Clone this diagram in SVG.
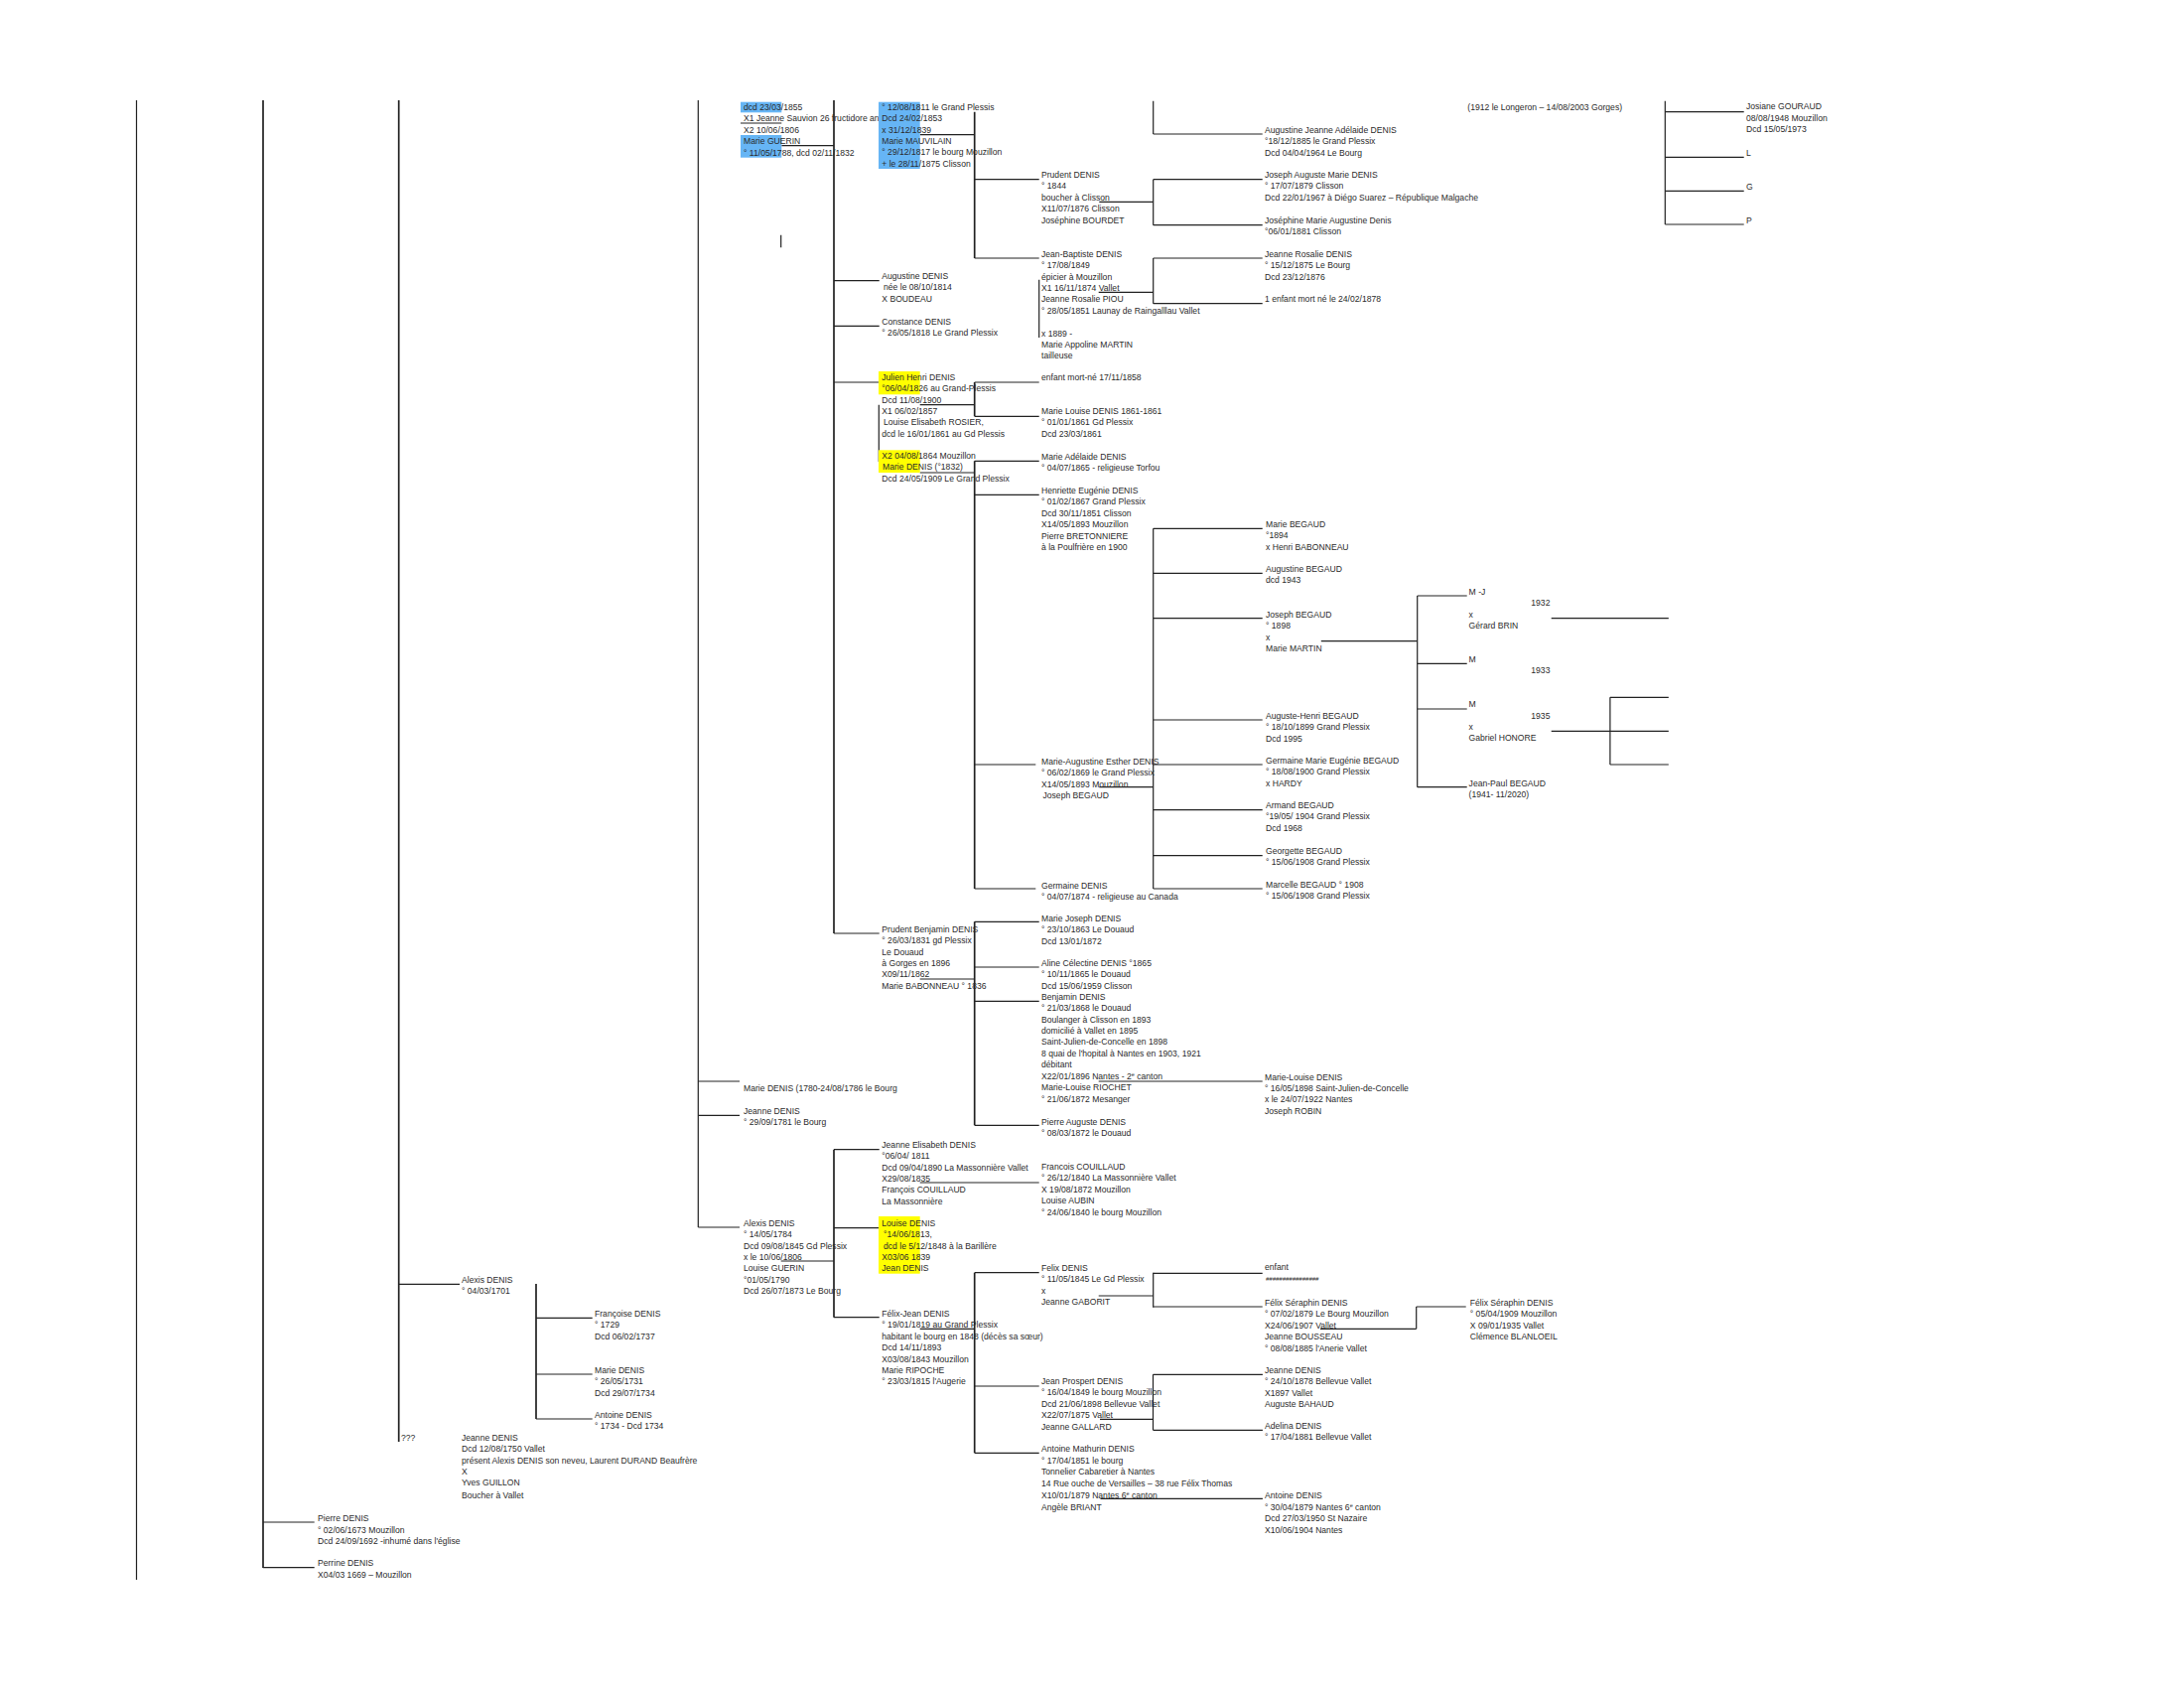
<svg xmlns="http://www.w3.org/2000/svg" width="2200" height="1700" viewBox="0 0 2200 1700">
<style>
text{font-family:"Liberation Sans",Arial,sans-serif;font-size:8.6px;fill:#2a2a2a}
.c{stroke:#222;stroke-width:1.2;fill:none}
.k{stroke:#222;stroke-width:1.7;fill:none}
.b{fill:#66b5f5}
.y{fill:#ffff00}
.sup{font-size:5.5px}
</style>
<rect width="2200" height="1700" fill="#fff"/>

<g id="connectors">
<path class="c" d="M137.5,101V1591 M703.3,101V1236 M1161.7,101.7V135 M1161.7,180.7V226.7 M1161.7,260V305.7 M1161.7,532.3V895 M1161.7,1281.7V1316.7 M1161.5,1384.3V1440.3 M1427.7,600V792.7 M1621.9,702.3V770 M1426.7,1316V1338.3 M1677.3,101.7V226 M885.3,407.7V465 M1046.7,281.7V340 M786.7,236.7V249.3"/>
<path class="k" d="M265,101V1579 M401.7,101V1452 M540,1293V1429 M840,101V940 M840,1157.7V1326.7 M981.7,112.7V260 M981.7,385V419.3 M981.7,464.3V895 M981.7,928.3V1133.3 M981.7,1281.7V1463.3"/>
<path class="c" d="M265,1533H316.7 M265,1578.7H316.7 M401.7,1293.3H463 M540,1327.3H596.7 M540,1384H596.7 M540,1429H596.7
M746,124H787.3 M787.3,146.7H840 M926.7,135.7H981.7 M981.7,180.7H1046.7 M981.7,260H1046.7
M1107.3,203.3H1161.7 M1161.7,135H1271.7 M1161.7,180.7H1271.7 M1161.7,226.7H1271.7
M1106.7,294.3H1161.7 M1161.7,260H1271.7 M1161.7,305.7H1271.7
M840,282.7H885.7 M840,328.3H885.7 M840,385H885.7
M981.7,385H1046.7 M926.7,407.7H981.7 M981.7,419.3H1046.7
M926.7,476H981.7 M981.7,464.3H1046.7 M981.7,498.3H1046.7
M1161.7,532.3H1271.7 M1161.7,577.3H1271.7 M1161.7,622.7H1271.7 M1161.7,725H1271.7 M1161.7,770H1271.7 M1161.7,815.7H1271.7 M1161.7,861.7H1271.7 M1161.7,895H1271.7
M981.7,770H1043.3 M981.7,895H1043.3 M1107.3,792.7H1161.7
M1330.8,645.7H1427.7 M1427.7,600H1477.7 M1427.7,668.3H1477.7 M1427.7,714H1477.7 M1427.7,792.7H1477.7
M1562.7,622.7H1680.8 M1562.7,736.3H1680.8 M1621.9,702.3H1680.8 M1621.9,770H1680.8
M1677.3,112.7H1756.7 M1677.3,158.3H1756.7 M1677.3,192.3H1756.7 M1677.3,226H1756.7
M840,940H885.7 M926.7,986H981.7
M981.7,928.3H1046.7 M981.7,974H1046.7 M981.7,1008.3H1046.7 M981.7,1133.3H1046.7
M1106.7,1089H1271.7 M703.3,1089H745 M703.3,1123.3H745
M840,1157.7H885.7 M926.7,1191H1046.7
M703.3,1236H745 M786.7,1270H840 M840,1236.7H885.7 M840,1326.7H885.7 M926.7,1338.3H981.7
M981.7,1281.7H1046.7 M981.7,1396H1046.7 M981.7,1463.3H1046.7
M1106.7,1305H1161.7 M1161.7,1282.3H1271.7 M1161.7,1316H1271.7
M1330,1338.3H1426.7 M1426.7,1316H1476.7
M1108,1429.3H1161.5 M1161.5,1384.3H1271.9 M1161.5,1440.3H1271.9
M1108.5,1509.3H1271.9"/>
</g>

<g id="n-denis-guerin">
<rect class="b" x="746" y="102.7" width="41.3" height="10.6"/>
<rect class="b" x="746" y="136" width="41.3" height="22.7"/>
<text x="749" y="110.7"><tspan x="749">dcd 23/03/1855</tspan><tspan x="749" dy="11.5">X1 Jeanne Sauvion 26 fructidore an</tspan><tspan x="749" dy="11.5">X2  10/06/1806</tspan><tspan x="749" dy="11.5">Marie GUERIN</tspan><tspan x="749" dy="11.5">° 11/05/1788, dcd 02/11/1832</tspan></text>
</g>
<g id="n-1811">
<rect class="b" x="885" y="102.7" width="41.7" height="67.3"/>
<text x="888.3" y="110.7"><tspan x="888.3">° 12/08/1811 le Grand Plessis</tspan><tspan x="888.3" dy="11.4">Dcd 24/02/1853</tspan><tspan x="888.3" dy="11.4">x 31/12/1839</tspan><tspan x="888.3" dy="11.4">Marie  MAUVILAIN</tspan><tspan x="888.3" dy="11.4">° 29/12/1817 le bourg Mouzillon</tspan><tspan x="888.3" dy="11.4">+ le 28/11/1875 Clisson</tspan></text>
</g>
<g id="n-prudent"><text y="179"><tspan x="1049">Prudent DENIS</tspan><tspan x="1049" dy="11.4">° 1844</tspan><tspan x="1049" dy="11.4">boucher à Clisson</tspan><tspan x="1049" dy="11.4">X11/07/1876 Clisson</tspan><tspan x="1049" dy="11.4">Joséphine BOURDET</tspan></text></g>
<g id="n-jean-baptiste"><text y="258.7"><tspan x="1049">Jean-Baptiste DENIS</tspan><tspan x="1049" dy="11.4">° 17/08/1849</tspan><tspan x="1049" dy="11.4">épicier à Mouzillon</tspan><tspan x="1049" dy="11.4">X1 16/11/1874 Vallet</tspan><tspan x="1049" dy="11.4">Jeanne Rosalie PIOU</tspan><tspan x="1049" dy="11.4">° 28/05/1851 Launay de Raingalllau Vallet</tspan><tspan x="1049" dy="22.8">x 1889 -</tspan><tspan x="1049" dy="11.4">Marie Appoline MARTIN</tspan><tspan x="1049" dy="11.4">tailleuse</tspan></text></g>
<g id="n-augustine"><text y="280.7"><tspan x="888.3">Augustine DENIS</tspan><tspan x="890" dy="11.4">née le 08/10/1814</tspan><tspan x="888.3" dy="11.4">X  BOUDEAU</tspan></text></g>
<g id="n-constance"><text y="326.7"><tspan x="888.3">Constance DENIS</tspan><tspan x="888.3" dy="11.4">° 26/05/1818 Le Grand Plessix</tspan></text></g>
<g id="n-julien">
<rect class="y" x="885" y="374" width="41.7" height="23.3"/>
<rect class="y" x="885" y="453.3" width="41.7" height="22.7"/>
<text y="383"><tspan x="888.3">Julien Henri DENIS</tspan><tspan x="888.3" dy="11.3">°06/04/1826 au Grand-Plessis</tspan><tspan x="888.3" dy="11.3">Dcd 11/08/1900</tspan><tspan x="888.3" dy="11.3">X1   06/02/1857</tspan><tspan x="890" dy="11.3">Louise Elisabeth ROSIER,</tspan><tspan x="888.3" dy="11.3">dcd le 16/01/1861  au Gd Plessis</tspan><tspan x="888.3" dy="22.6">X2  04/08/1864 Mouzillon</tspan><tspan x="889" dy="11.3">Marie DENIS (°1832)</tspan><tspan x="888.3" dy="11.3">Dcd 24/05/1909 Le Grand Plessix</tspan></text>
</g>
<g id="n-enfant-1858"><text x="1049" y="383">enfant mort-né 17/11/1858</text></g>
<g id="n-marie-louise-1861"><text y="417"><tspan x="1049">Marie Louise DENIS 1861-1861</tspan><tspan x="1049" dy="11.4">° 01/01/1861 Gd Plessix</tspan><tspan x="1049" dy="11.4">Dcd 23/03/1861</tspan></text></g>
<g id="n-marie-adelaide"><text y="463"><tspan x="1049">Marie Adélaide DENIS</tspan><tspan x="1049" dy="11.4">° 04/07/1865 - religieuse Torfou</tspan></text></g>
<g id="n-henriette"><text y="497"><tspan x="1049">Henriette Eugénie DENIS</tspan><tspan x="1049" dy="11.4">° 01/02/1867 Grand Plessix</tspan><tspan x="1049" dy="11.4">Dcd 30/11/1851 Clisson</tspan><tspan x="1049" dy="11.4">X14/05/1893  Mouzillon</tspan><tspan x="1049" dy="11.4">Pierre BRETONNIERE</tspan><tspan x="1049" dy="11.4">à la  Poulfrière en 1900</tspan></text></g>
<g id="n-marie-augustine"><text y="769.7"><tspan x="1049">Marie-Augustine Esther DENIS</tspan><tspan x="1049" dy="11.4">° 06/02/1869 le Grand Plessix</tspan><tspan x="1049" dy="11.4">X14/05/1893  Mouzillon</tspan><tspan x="1050.5" dy="11.4">Joseph BEGAUD</tspan></text></g>
<g id="n-germaine"><text y="894.7"><tspan x="1049">Germaine DENIS</tspan><tspan x="1049" dy="11.4">° 04/07/1874 - religieuse au Canada</tspan></text></g>
<g id="n-prudent-benjamin"><text y="938.7"><tspan x="888.3">Prudent Benjamin DENIS</tspan><tspan x="888.3" dy="11.4">° 26/03/1831 gd Plessix</tspan><tspan x="888.3" dy="11.4">Le Douaud</tspan><tspan x="888.3" dy="11.4">à Gorges en 1896</tspan><tspan x="888.3" dy="11.4">X09/11/1862</tspan><tspan x="888.3" dy="11.4">Marie  BABONNEAU ° 1836</tspan></text></g>
<g id="n-marie-joseph"><text y="927.7"><tspan x="1049">Marie Joseph DENIS</tspan><tspan x="1049" dy="11.4">° 23/10/1863 Le Douaud</tspan><tspan x="1049" dy="11.4">Dcd 13/01/1872</tspan></text></g>
<g id="n-aline"><text y="973"><tspan x="1049">Aline Célectine DENIS °1865</tspan><tspan x="1049" dy="11.4">° 10/11/1865 le Douaud</tspan><tspan x="1049" dy="11.4">Dcd 15/06/1959 Clisson</tspan></text></g>
<g id="n-benjamin"><text y="1006.7"><tspan x="1049">Benjamin DENIS</tspan><tspan x="1049" dy="11.4">° 21/03/1868 le Douaud</tspan><tspan x="1049" dy="11.4">Boulanger à Clisson en 1893</tspan><tspan x="1049" dy="11.4">domicilié à Vallet en 1895</tspan><tspan x="1049" dy="11.4">Saint-Julien-de-Concelle en 1898</tspan><tspan x="1049" dy="11.4">8 quai de l'hopital à Nantes en 1903, 1921</tspan><tspan x="1049" dy="11.4">débitant</tspan><tspan x="1049" dy="11.8">X22/01/1896 Nantes - 2</tspan><tspan class="sup" dy="-3">e</tspan><tspan dy="3"> canton</tspan><tspan x="1049" dy="11.2">Marie-Louise RIOCHET</tspan><tspan x="1049" dy="11.4">° 21/06/1872 Mesanger</tspan></text></g>
<g id="n-marie-louise-1898"><text y="1087.5"><tspan x="1274">Marie-Louise DENIS</tspan><tspan x="1274" dy="11.4">° 16/05/1898 Saint-Julien-de-Concelle</tspan><tspan x="1274" dy="11.4">x le 24/07/1922 Nantes</tspan><tspan x="1274" dy="11.4">Joseph ROBIN</tspan></text></g>
<g id="n-pierre-auguste"><text y="1132.7"><tspan x="1049">Pierre Auguste DENIS</tspan><tspan x="1049" dy="11.4">° 08/03/1872 le Douaud</tspan></text></g>
<g id="n-marie-1780"><text x="749" y="1098.7">Marie DENIS (1780-24/08/1786 le Bourg</text></g>
<g id="n-jeanne-1781"><text y="1122"><tspan x="749">Jeanne DENIS</tspan><tspan x="749" dy="11.4">° 29/09/1781 le Bourg</tspan></text></g>
<g id="n-jeanne-elisabeth"><text y="1155.7"><tspan x="888.3">Jeanne Elisabeth DENIS</tspan><tspan x="888.3" dy="11.4">°06/04/ 1811</tspan><tspan x="888.3" dy="11.4">Dcd 09/04/1890 La  Massonnière Vallet</tspan><tspan x="888.3" dy="11.4">X29/08/1835</tspan><tspan x="888.3" dy="11.4">François COUILLAUD</tspan><tspan x="888.3" dy="11.4">La  Massonnière</tspan></text></g>
<g id="n-francois-couillaud"><text y="1178"><tspan x="1049">Francois  COUILLAUD</tspan><tspan x="1049" dy="11.4">° 26/12/1840 La Massonnière Vallet</tspan><tspan x="1049" dy="11.4">X 19/08/1872 Mouzillon</tspan><tspan x="1049" dy="11.4">Louise AUBIN</tspan><tspan x="1049" dy="11.4">° 24/06/1840 le bourg Mouzillon</tspan></text></g>
<g id="n-alexis-1784"><text y="1234.7"><tspan x="749">Alexis DENIS</tspan><tspan x="749" dy="11.4">° 14/05/1784</tspan><tspan x="749" dy="11.4">Dcd 09/08/1845 Gd Plessix</tspan><tspan x="749" dy="11.4">x le 10/06/1806</tspan><tspan x="749" dy="11.4">Louise  GUERIN</tspan><tspan x="749" dy="11.4">°01/05/1790</tspan><tspan x="749" dy="11.4">Dcd 26/07/1873 Le Bourg</tspan></text></g>
<g id="n-louise">
<rect class="y" x="885" y="1225" width="41.7" height="57.7"/>
<text y="1234.7"><tspan x="888.3">Louise DENIS</tspan><tspan x="890" dy="11.4">°14/06/1813,</tspan><tspan x="890" dy="11.4">dcd le 5/12/1848 à la Barillère</tspan><tspan x="888.3" dy="11.4">X03/06 1839</tspan><tspan x="888.3" dy="11.4">Jean DENIS</tspan></text>
</g>
<g id="n-felix-jean"><text y="1326"><tspan x="888.3">Félix-Jean DENIS</tspan><tspan x="888.3" dy="11.4">° 19/01/1819 au Grand Plessix</tspan><tspan x="888.3" dy="11.4">habitant le bourg en 1848 (décès sa sœur)</tspan><tspan x="888.3" dy="11.4">Dcd 14/11/1893</tspan><tspan x="888.3" dy="11.4">X03/08/1843 Mouzillon</tspan><tspan x="888.3" dy="11.4">Marie  RIPOCHE</tspan><tspan x="888.3" dy="11.4">° 23/03/1815 l'Augerie</tspan></text></g>
<g id="n-felix"><text y="1280"><tspan x="1049">Felix DENIS</tspan><tspan x="1049" dy="11.4">° 11/05/1845 Le Gd Plessix</tspan><tspan x="1049" dy="11.4">x</tspan><tspan x="1049" dy="11.4">Jeanne GABORIT</tspan></text></g>
<g id="n-enfant"><text y="1278.7"><tspan x="1274">enfant</tspan><tspan x="1275" dy="11.4" font-size="6" font-style="italic">################</tspan></text></g>
<g id="n-felix-seraphin-1879"><text y="1315"><tspan x="1274">Félix Séraphin DENIS</tspan><tspan x="1274" dy="11.4">° 07/02/1879 Le Bourg Mouzillon</tspan><tspan x="1274" dy="11.4">X24/06/1907 Vallet</tspan><tspan x="1274" dy="11.4">Jeanne BOUSSEAU</tspan><tspan x="1274" dy="11.4">° 08/08/1885 l'Anerie Vallet</tspan></text></g>
<g id="n-felix-seraphin-1909"><text y="1314.7"><tspan x="1480.8">Félix Séraphin DENIS</tspan><tspan x="1480.8" dy="11.4">° 05/04/1909  Mouzillon</tspan><tspan x="1480.8" dy="11.4">X 09/01/1935 Vallet</tspan><tspan x="1480.8" dy="11.4">Clémence  BLANLOEIL</tspan></text></g>
<g id="n-jeanne-1878"><text y="1383"><tspan x="1274">Jeanne DENIS</tspan><tspan x="1274" dy="11.4">° 24/10/1878 Bellevue  Vallet</tspan><tspan x="1274" dy="11.4">X1897 Vallet</tspan><tspan x="1274" dy="11.4">Auguste BAHAUD</tspan></text></g>
<g id="n-adelina"><text y="1439"><tspan x="1274">Adelina DENIS</tspan><tspan x="1274" dy="11.4">° 17/04/1881   Bellevue Vallet</tspan></text></g>
<g id="n-jean-prospert"><text y="1394"><tspan x="1049">Jean Prospert DENIS</tspan><tspan x="1049" dy="11.4">° 16/04/1849 le bourg Mouzillon</tspan><tspan x="1049" dy="11.4">Dcd 21/06/1898 Bellevue Vallet</tspan><tspan x="1049" dy="11.4">X22/07/1875  Vallet</tspan><tspan x="1049" dy="11.4">Jeanne GALLARD</tspan></text></g>
<g id="n-antoine-mathurin"><text y="1462"><tspan x="1049">Antoine Mathurin DENIS</tspan><tspan x="1049" dy="11.5">° 17/04/1851 le bourg</tspan><tspan x="1049" dy="11.5">Tonnelier  Cabaretier à Nantes</tspan><tspan x="1049" dy="11.5">14 Rue ouche de Versailles – 38 rue Félix Thomas</tspan><tspan x="1049" dy="12.6">X10/01/1879 Nantes 6</tspan><tspan class="sup" dy="-3">e</tspan><tspan dy="3"> canton</tspan><tspan x="1049" dy="11.6">Angèle BRIANT</tspan></text></g>
<g id="n-antoine-1879"><text y="1509"><tspan x="1274">Antoine DENIS</tspan><tspan x="1274" dy="11.6">° 30/04/1879 Nantes 6</tspan><tspan class="sup" dy="-3">e</tspan><tspan dy="3"> canton</tspan><tspan x="1274" dy="11.6">Dcd  27/03/1950  St Nazaire</tspan><tspan x="1274" dy="11.6">X10/06/1904 Nantes</tspan></text></g>
<g id="n-augustine-jeanne"><text y="134"><tspan x="1274">Augustine Jeanne Adélaide DENIS</tspan><tspan x="1274" dy="11.4">°18/12/1885 le Grand Plessix</tspan><tspan x="1274" dy="11.4">Dcd 04/04/1964 Le Bourg</tspan></text></g>
<g id="n-joseph-auguste"><text y="179"><tspan x="1274">Joseph Auguste Marie DENIS</tspan><tspan x="1274" dy="11.4">° 17/07/1879 Clisson</tspan><tspan x="1274" dy="11.4">Dcd 22/01/1967 à Diégo Suarez – République Malgache</tspan></text></g>
<g id="n-josephine"><text y="224.7"><tspan x="1274">Joséphine Marie Augustine Denis</tspan><tspan x="1274" dy="11.4">°06/01/1881 Clisson</tspan></text></g>
<g id="n-jeanne-rosalie"><text y="258.7"><tspan x="1274">Jeanne Rosalie DENIS</tspan><tspan x="1274" dy="11.4">° 15/12/1875 Le Bourg</tspan><tspan x="1274" dy="11.4">Dcd 23/12/1876</tspan></text></g>
<g id="n-enfant-1878"><text x="1274" y="303.7">1 enfant mort né le 24/02/1878</text></g>
<g id="n-longeron"><text x="1478.3" y="111.3">(1912 le Longeron – 14/08/2003 Gorges)</text></g>
<g id="n-josiane"><text y="110.3"><tspan x="1759">Josiane GOURAUD</tspan><tspan x="1759" dy="11.4">08/08/1948  Mouzillon</tspan><tspan x="1759" dy="11.4">Dcd 15/05/1973</tspan></text></g>
<g id="n-l"><text x="1759" y="157.3">L</text></g>
<g id="n-g"><text x="1759" y="191.3">G</text></g>
<g id="n-p"><text x="1759" y="225.3">P</text></g>
<g id="n-marie-begaud"><text y="530.7"><tspan x="1275">Marie BEGAUD</tspan><tspan x="1275" dy="11.4">°1894</tspan><tspan x="1275" dy="11.4">x Henri BABONNEAU</tspan></text></g>
<g id="n-augustine-begaud"><text y="576"><tspan x="1275">Augustine BEGAUD</tspan><tspan x="1275" dy="11.4">dcd 1943</tspan></text></g>
<g id="n-joseph-begaud"><text y="621.7"><tspan x="1275">Joseph BEGAUD</tspan><tspan x="1275" dy="11.4">° 1898</tspan><tspan x="1275" dy="11.4">x</tspan><tspan x="1275" dy="11.4">Marie  MARTIN</tspan></text></g>
<g id="n-auguste-henri"><text y="723.7"><tspan x="1275">Auguste-Henri BEGAUD</tspan><tspan x="1275" dy="11.4">° 18/10/1899 Grand Plessix</tspan><tspan x="1275" dy="11.4">Dcd 1995</tspan></text></g>
<g id="n-germaine-begaud"><text y="768.7"><tspan x="1275">Germaine  Marie  Eugénie  BEGAUD</tspan><tspan x="1275" dy="11.4">° 18/08/1900 Grand Plessix</tspan><tspan x="1275" dy="11.4">x HARDY</tspan></text></g>
<g id="n-armand"><text y="814"><tspan x="1275">Armand BEGAUD</tspan><tspan x="1275" dy="11.4">°19/05/ 1904 Grand Plessix</tspan><tspan x="1275" dy="11.4">Dcd 1968</tspan></text></g>
<g id="n-georgette"><text y="859.7"><tspan x="1275">Georgette BEGAUD</tspan><tspan x="1275" dy="11.4">° 15/06/1908 Grand Plessix</tspan></text></g>
<g id="n-marcelle"><text y="894"><tspan x="1275">Marcelle BEGAUD ° 1908</tspan><tspan x="1275" dy="11.4">° 15/06/1908 Grand Plessix</tspan></text></g>
<g id="n-mj"><text x="1479.6" y="599">M -J</text><text x="1542.3" y="610">1932</text><text x="1479.6" y="621.7">x</text><text x="1479.6" y="633">Gérard BRIN</text></g>
<g id="n-m1933"><text x="1479.6" y="667">M</text><text x="1542.3" y="678">1933</text></g>
<g id="n-m1935"><text x="1479.6" y="712">M</text><text x="1542.3" y="723.7">1935</text><text x="1479.6" y="735.3">x</text><text x="1479.6" y="746">Gabriel HONORE</text></g>
<g id="n-jean-paul"><text y="791.7"><tspan x="1479.6">Jean-Paul BEGAUD</tspan><tspan x="1479.6" dy="11.4">(1941- 11/2020)</tspan></text></g>
<g id="n-alexis-1701"><text y="1292"><tspan x="465">Alexis DENIS</tspan><tspan x="465" dy="11.4">° 04/03/1701</tspan></text></g>
<g id="n-francoise"><text y="1325.7"><tspan x="599">Françoise DENIS</tspan><tspan x="599" dy="11.4">° 1729</tspan><tspan x="599" dy="11.4">Dcd 06/02/1737</tspan></text></g>
<g id="n-marie-1731"><text y="1383"><tspan x="599">Marie DENIS</tspan><tspan x="599" dy="11.4">° 26/05/1731</tspan><tspan x="599" dy="11.4">Dcd 29/07/1734</tspan></text></g>
<g id="n-antoine-1734"><text y="1427.7"><tspan x="599">Antoine DENIS</tspan><tspan x="599" dy="11.4">° 1734 - Dcd 1734</tspan></text></g>
<g id="n-qqq"><text x="404" y="1451">???</text></g>
<g id="n-jeanne-1750"><text y="1450.7"><tspan x="465">Jeanne DENIS</tspan><tspan x="465" dy="11.4">Dcd 12/08/1750  Vallet</tspan><tspan x="465" dy="11.4">présent  Alexis DENIS son neveu, Laurent DURAND Beaufrère</tspan><tspan x="465" dy="11.4">X</tspan><tspan x="465" dy="11.4">Yves  GUILLON</tspan><tspan x="465" dy="12.8">Boucher à Vallet</tspan></text></g>
<g id="n-pierre-1673"><text y="1532.3"><tspan x="320">Pierre DENIS</tspan><tspan x="320" dy="11.4">° 02/06/1673 Mouzillon</tspan><tspan x="320" dy="11.4">Dcd 24/09/1692 -inhumé dans l'église</tspan></text></g>
<g id="n-perrine"><text y="1577.3"><tspan x="320">Perrine DENIS</tspan><tspan x="320" dy="11.4">X04/03 1669  – Mouzillon</tspan></text></g>
</svg>
